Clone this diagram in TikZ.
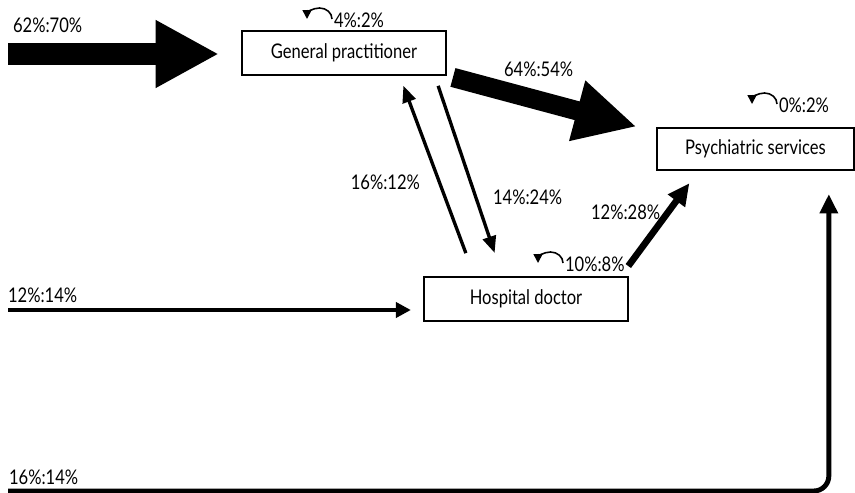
\documentclass[tikz,border=0pt]{standalone}
\usepackage{fontspec}
\setmainfont{Lato}[FakeStretch=0.82]
\usetikzlibrary{arrows.meta, calc}
\tikzset{
  every picture/.style={font=\fontsize{11.5}{13}\selectfont, line width=1.2pt},
  box/.style={draw, line width=1.3pt, inner sep=0pt, minimum width=#1, minimum height=0.87cm},
  lbl/.style={inner sep=0pt, anchor=west},
  flow/.style={-{Triangle[length=9.5pt, width=7.6pt]}, line width=1.9pt},
  selfloop/.style={-{Triangle[length=5pt, width=5pt]}, line width=0.9pt},
}
\begin{document}
\begin{tikzpicture}[x=0.02cm, y=-0.02cm]
  \useasboundingbox (0,0) rectangle (855,493);
  % the three services
  \node[box=4.08cm] (gp) at (344,53) {General practitioner};
  \node[box=3.94cm, minimum height=0.84cm] (ps) at (755.5,149) {Psychiatric services};
  \node[box=4.08cm] (hd) at (526,299) {Hospital doctor};
  % entry points on the left
  \coordinate (in1) at (8,54);
  \coordinate (in2) at (8,310);
  \coordinate (in3) at (8,491);
  % referral flows
  \draw[-{Triangle[length=36pt, width=36pt]}, line width=13pt, shorten >=0.44cm] (in1) -- (in1 -| gp.west);
  \draw[-{Triangle[length=35pt, width=33pt]}, line width=11pt, shorten <=0.12cm, shorten >=0.4cm]
    (gp.south east) -- ($(ps.north west)+(0,5)$);
  \draw[flow, shorten <=0.49cm, shorten >=0.21cm]
    ($(hd.north west)!0.25!(hd.north east)$) -- ($(gp.south west)!0.77!(gp.south east)$);
  \draw[flow, shorten <=0.21cm, shorten >=0.49cm]
    ($(gp.south west)!0.94!(gp.south east)$) -- ($(hd.north west)!0.386!(hd.north east)$);
  \draw[-{Triangle[length=12.5pt, width=11.4pt]}, line width=3.8pt, shorten <=0.25cm, shorten >=0.3cm]
    ($(hd.north west)!0.96!(hd.north east)$) -- ($(ps.south west)!0.213!(ps.south east)$);
  \draw[-{Triangle[length=8.5pt, width=8.5pt]}, line width=2.3pt, shorten >=0.24cm] (in2) -- (in2 -| hd.west);
  \draw[-{Triangle[length=11pt, width=10pt]}, line width=2.8pt, rounded corners=0.3cm, shorten >=0.46cm]
    (in3) -| ($(ps.south west)!0.868!(ps.south east)$);
  % labels
  \node[lbl] (l62) at (12,25) {62\%:70\%};
  \node[lbl] (l64) at (503,69) {64\%:54\%};
  \node[lbl, anchor=east] (l16a) at (421,182) {16\%:12\%};
  \node[lbl] (l14a) at (492,197) {14\%:24\%};
  \node[lbl] (l12a) at (590,212) {12\%:28\%};
  \node[lbl] (l12b) at (7,295) {12\%:14\%};
  \node[lbl] (l16b) at (8,477) {16\%:14\%};
  \node[lbl] (lgp) at (333,20) {4\%:2\%};
  \node[lbl] (lps) at (778,105) {0\%:2\%};
  \node[lbl] (lhd) at (564,264) {10\%:8\%};
  % staying put
  \foreach \l in {lgp, lps, lhd}
    \draw[selfloop] ($(\l.west)+(-1,-1)$) arc[start angle=0, end angle=180, x radius=0.25cm, y radius=0.22cm];
\end{tikzpicture}
\end{document}
